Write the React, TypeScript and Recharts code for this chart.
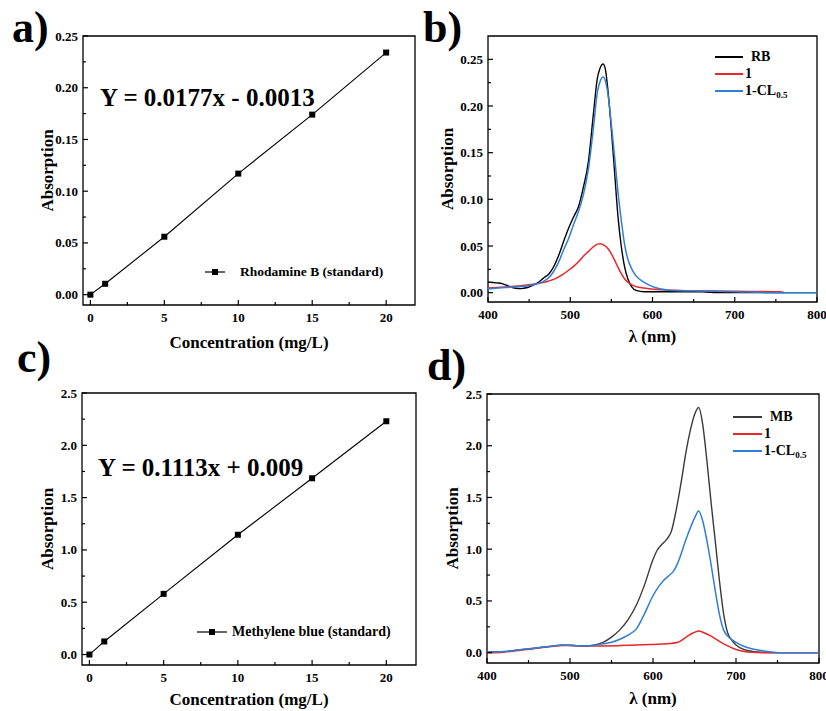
import React from "react";
import { LineChart, Line, XAxis, YAxis, ReferenceArea, Legend } from "recharts";

const SERIF = '"Liberation Serif", "Times New Roman", serif';
const RED = "#e8262b";
const BLUE = "#2f7ed8";

// a) Rhodamine B calibration
const rbConc = [0, 1, 5, 10, 15, 20];
const rbStd = [0.0, 0.0105, 0.056, 0.117, 0.174, 0.234];

// c) Methylene blue calibration
const mbConc = [0, 1, 5, 10, 15, 20];
const mbStd = [0.0, 0.125, 0.58, 1.145, 1.685, 2.23];

// b) RB spectra
const rbWl = [400, 410, 418, 425, 432, 440, 448, 455, 462, 468, 474, 480, 486, 492, 498, 504, 510, 516, 522, 528, 533, 536, 540, 543, 546, 550, 554, 558, 562, 566, 570, 575, 580, 590, 620, 660, 680, 720, 800];
const rbAbs = [0.0114, 0.0105, 0.0095, 0.007, 0.005, 0.0043, 0.0055, 0.008, 0.0114, 0.016, 0.02, 0.028, 0.04, 0.055, 0.069, 0.081, 0.092, 0.113, 0.14, 0.19, 0.23, 0.24, 0.245, 0.238, 0.215, 0.175, 0.128, 0.082, 0.05, 0.028, 0.015, 0.006, 0.0025, 0.001, 0.001, 0.001, 0, 0, 0];
const rb1Wl = [400, 420, 440, 455, 465, 474, 482, 490, 498, 505, 511, 517, 522, 528, 533, 537, 541, 546, 551, 556, 561, 566, 572, 580, 590, 610, 650, 700, 755, 760];
const rb1Abs = [0.005, 0.006, 0.0075, 0.009, 0.0105, 0.0125, 0.015, 0.019, 0.024, 0.029, 0.034, 0.04, 0.044, 0.049, 0.052, 0.0525, 0.051, 0.047, 0.04, 0.031, 0.022, 0.015, 0.01, 0.0065, 0.005, 0.003, 0.002, 0.0015, 0.001, 0];
const rbClWl = [400, 420, 440, 455, 465, 475, 486, 492, 498, 504, 510, 516, 522, 528, 533, 537, 540, 543, 546, 550, 554, 558, 562, 566, 570, 575, 580, 590, 600, 610, 620, 650, 700, 760, 800];
const rbClAbs = [0.004, 0.0055, 0.0065, 0.0085, 0.011, 0.017, 0.033, 0.046, 0.058, 0.073, 0.087, 0.105, 0.132, 0.175, 0.215, 0.228, 0.231, 0.226, 0.212, 0.18, 0.145, 0.108, 0.078, 0.052, 0.036, 0.025, 0.018, 0.011, 0.0065, 0.004, 0.0025, 0.002, 0.001, 0, 0];

// d) MB spectra
const mbWl = [400, 420, 440, 460, 480, 490, 500, 510, 520, 530, 540, 550, 560, 570, 580, 590, 600, 605, 610, 617, 622, 628, 634, 640, 645, 650, 655, 660, 665, 670, 675, 680, 685, 690, 695, 700, 710, 720, 730, 750, 800];
const mbAbs = [0.006, 0.01, 0.028, 0.045, 0.065, 0.073, 0.072, 0.066, 0.064, 0.075, 0.1, 0.15, 0.22, 0.32, 0.46, 0.66, 0.9, 0.99, 1.04, 1.1, 1.17, 1.38, 1.65, 1.95, 2.15, 2.3, 2.37, 2.2, 1.85, 1.45, 1.08, 0.7, 0.38, 0.19, 0.12, 0.075, 0.03, 0.012, 0.004, 0, 0];
const mb1Wl = [400, 420, 440, 460, 480, 490, 500, 520, 540, 560, 580, 600, 620, 630, 640, 648, 655, 662, 670, 680, 690, 700, 710, 720, 730, 800];
const mb1Abs = [0.0, 0.005, 0.022, 0.042, 0.062, 0.07, 0.068, 0.064, 0.065, 0.068, 0.073, 0.08, 0.088, 0.1, 0.15, 0.19, 0.21, 0.19, 0.16, 0.11, 0.065, 0.03, 0.012, 0.004, 0, 0];
const mbClWl = [400, 420, 440, 460, 480, 490, 500, 510, 520, 530, 540, 550, 560, 570, 580, 590, 600, 607, 613, 620, 625, 630, 640, 650, 655, 660, 665, 670, 675, 680, 685, 690, 700, 710, 720, 730, 740, 750, 800];
const mbClAbs = [0.006, 0.01, 0.028, 0.045, 0.065, 0.073, 0.07, 0.066, 0.065, 0.072, 0.085, 0.1, 0.13, 0.17, 0.23, 0.38, 0.55, 0.64, 0.7, 0.75, 0.79, 0.87, 1.1, 1.3, 1.37, 1.27, 1.08, 0.85, 0.6, 0.37, 0.22, 0.16, 0.1, 0.06, 0.035, 0.02, 0.008, 0, 0];

// ticks (major + minor)
const concTicks = [0, 2.5, 5, 7.5, 10, 12.5, 15, 17.5, 20];
const wlTicks = [400, 450, 500, 550, 600, 650, 700, 750, 800];
const smallAbsTicks = [0, 0.025, 0.05, 0.075, 0.1, 0.125, 0.15, 0.175, 0.2, 0.225, 0.25];
const bigAbsTicks = [0, 0.25, 0.5, 0.75, 1.0, 1.25, 1.5, 1.75, 2.0, 2.25, 2.5];

const zip = (xs: number[], ys: number[]) => xs.map((x, i) => ({ x, y: ys[i] }));

const isMajor = (v: number, step: number) => Math.abs(v / step - Math.round(v / step)) < 1e-6;

const tickText = { fontFamily: SERIF, fontWeight: "bold" as const, fontSize: 13, fill: "#000" };

function xTick(step: number, fmt: (v: number) => string) {
  return (p: any) => {
    const v = p.payload.value;
    const major = isMajor(v, step);
    return (
      <g>
        <line x1={p.x} x2={p.x} y1={p.y} y2={p.y - (major ? 5 : 3)} stroke="#000" strokeWidth={1.2} />
        {major && (
          <text x={p.x} y={p.y + 16.5} textAnchor="middle" {...tickText}>
            {fmt(v)}
          </text>
        )}
      </g>
    );
  };
}

function yTick(step: number, fmt: (v: number) => string) {
  return (p: any) => {
    const v = p.payload.value;
    const major = isMajor(v, step);
    return (
      <g>
        <line x1={p.x} x2={p.x + (major ? 5 : 3)} y1={p.y} y2={p.y} stroke="#000" strokeWidth={1.2} />
        {major && (
          <text x={p.x - 5} y={p.y + 4.5} textAnchor="end" {...tickText}>
            {fmt(v)}
          </text>
        )}
      </g>
    );
  };
}

const axisTitle = { fontFamily: SERIF, fontWeight: "bold", fontSize: 17, fill: "#000" };

function seriesName(name: string) {
  if (name.endsWith("0.5")) {
    return (
      <>
        {name.slice(0, -3)}
        <span style={{ fontSize: 9, position: "relative", top: 3 }}>0.5</span>
      </>
    );
  }
  return name;
}

// legend keeps the series order, not recharts' alphabetical sort
function spectraLegend(order: string[], lineW: number, gap: number, rowH: number) {
  return (props: any) => {
    const items = [...(props.payload || [])].sort((a: any, b: any) => order.indexOf(a.value) - order.indexOf(b.value));
    return (
      <div style={{ fontFamily: SERIF, fontWeight: "bold", fontSize: 14, color: "#000" }}>
        {items.map((e: any) => (
          <div key={e.value} style={{ height: rowH, display: "flex", alignItems: "center" }}>
            <svg width={lineW} height={4} style={{ display: "block" }}>
              <line x1={0} x2={lineW} y1={2} y2={2} stroke={e.color} strokeWidth={2} />
            </svg>
            <span style={{ marginLeft: /B$/.test(e.value) ? gap + 6 : gap, lineHeight: 1, whiteSpace: "nowrap" }}>{seriesName(e.value)}</span>
          </div>
        ))}
      </div>
    );
  };
}

function standardLegend(lineW: number, gap: number, fontSize: number) {
  return (props: any) => (
    <div style={{ fontFamily: SERIF, fontWeight: "bold", fontSize, color: "#000" }}>
      {(props.payload || []).map((e: any) => (
        <div key={e.value} style={{ height: 18, display: "flex", alignItems: "center" }}>
          <svg width={lineW} height={8} style={{ display: "block" }}>
            <line x1={0} x2={lineW} y1={4} y2={4} stroke="#000" strokeWidth={1.2} />
            <rect x={lineW / 2 - 3} y={1} width={6} height={6} fill="#000" />
          </svg>
          <span style={{ marginLeft: gap, lineHeight: 1, whiteSpace: "nowrap" }}>{e.value}</span>
        </div>
      ))}
    </div>
  );
}

const squareDot = (p: any) => (
  <rect key={`d-${p.index}`} x={p.cx - 3} y={p.cy - 3} width={6} height={6} fill="#000" />
);

const fmt2 = (v: number) => v.toFixed(2);
const fmt1 = (v: number) => v.toFixed(1);
const fmt0 = (v: number) => String(v);

function CalibrationChart(props: {
  width: number;
  height: number;
  margin: any;
  yWidth: number;
  xHeight: number;
  xDomain: [number, number];
  yDomain: [number, number];
  yTicks: number[];
  yStep: number;
  yFmt: (v: number) => string;
  points: { x: number; y: number }[];
  name: string;
  yLabelX: number;
  xLabelOffset: number;
  legendLeft: number;
  legendTop: number;
  legendLineW: number;
  legendGap: number;
  legendFont: number;
}) {
  const p = props;
  return (
    <LineChart width={p.width} height={p.height} margin={p.margin}>
      <XAxis
        dataKey="x"
        type="number"
        domain={p.xDomain}
        allowDataOverflow
        ticks={concTicks}
        interval={0}
        height={p.xHeight}
        tickSize={0}
        tickMargin={0}
        tickLine={false}
        axisLine={false}
        tick={xTick(5, fmt0)}
        label={{ value: "Concentration (mg/L)", position: "insideBottom", offset: p.xLabelOffset, style: axisTitle }}
      />
      <YAxis
        type="number"
        domain={p.yDomain}
        allowDataOverflow
        ticks={p.yTicks}
        interval={0}
        width={p.yWidth}
        tickSize={0}
        tickMargin={0}
        tickLine={false}
        axisLine={false}
        tick={yTick(p.yStep, p.yFmt)}
        label={{ value: "Absorption", angle: -90, position: "insideLeft", offset: p.yLabelX, style: { ...axisTitle, textAnchor: "middle" } }}
      />
      <ReferenceArea x1={p.xDomain[0]} x2={p.xDomain[1]} y1={p.yDomain[0]} y2={p.yDomain[1]} fill="none" stroke="#000" strokeWidth={1.3} strokeOpacity={1} />
      <Line data={p.points} dataKey="y" name={p.name} type="linear" stroke="#000" strokeWidth={1.1} dot={squareDot} isAnimationActive={false} />
      <Legend
        layout="vertical"
        align="center"
        verticalAlign="middle"
        content={standardLegend(p.legendLineW, p.legendGap, p.legendFont)}
        wrapperStyle={{ left: p.legendLeft, top: p.legendTop, width: 220, height: "auto" }}
      />
    </LineChart>
  );
}

function SpectraChart(props: {
  width: number;
  height: number;
  margin: any;
  yWidth: number;
  xHeight: number;
  yDomain: [number, number];
  yTicks: number[];
  yStep: number;
  yFmt: (v: number) => string;
  series: { name: string; color: string; width: number; points: { x: number; y: number }[] }[];
  yLabelX: number;
  xLabelOffset: number;
  legendLeft: number;
  legendTop: number;
  legendLineW: number;
  legendGap: number;
}) {
  const p = props;
  return (
    <LineChart width={p.width} height={p.height} margin={p.margin}>
      <XAxis
        dataKey="x"
        type="number"
        domain={[400, 800]}
        allowDataOverflow
        ticks={wlTicks}
        interval={0}
        height={p.xHeight}
        tickSize={0}
        tickMargin={0}
        tickLine={false}
        axisLine={false}
        tick={xTick(100, fmt0)}
        label={{ value: "λ (nm)", position: "insideBottom", offset: p.xLabelOffset, style: axisTitle }}
      />
      <YAxis
        type="number"
        domain={p.yDomain}
        allowDataOverflow
        ticks={p.yTicks}
        interval={0}
        width={p.yWidth}
        tickSize={0}
        tickMargin={0}
        tickLine={false}
        axisLine={false}
        tick={yTick(p.yStep, p.yFmt)}
        label={{ value: "Absorption", angle: -90, position: "insideLeft", offset: p.yLabelX, style: { ...axisTitle, textAnchor: "middle" } }}
      />
      <ReferenceArea x1={400} x2={800} y1={p.yDomain[0]} y2={p.yDomain[1]} fill="none" stroke="#000" strokeWidth={1.3} strokeOpacity={1} />
      {p.series.map((s) => (
        <Line
          key={s.name}
          data={s.points}
          dataKey="y"
          name={s.name}
          type="monotone"
          stroke={s.color}
          strokeWidth={s.width}
          dot={false}
          isAnimationActive={false}
        />
      ))}
      <Legend
        layout="vertical"
        align="center"
        verticalAlign="middle"
        content={spectraLegend(p.series.map((s) => s.name), p.legendLineW, p.legendGap, 17)}
        wrapperStyle={{ left: p.legendLeft, top: p.legendTop, width: 100, height: "auto" }}
      />
    </LineChart>
  );
}

const panelLabel = (text: string, left: number, top: number) => (
  <div style={{ position: "absolute", left, top, fontFamily: SERIF, fontWeight: "bold", fontSize: 44, lineHeight: "44px", color: "#000" }}>{text}</div>
);

const equation = (text: string, left: number, top: number) => (
  <div style={{ position: "absolute", left, top, fontFamily: SERIF, fontWeight: "bold", fontSize: 25, lineHeight: "26px", color: "#000", whiteSpace: "nowrap" }}>{text}</div>
);

export default function App() {
  return (
    <div style={{ position: "fixed", left: 0, top: 0, width: 826, height: 711, background: "#fff", overflow: "hidden" }}>
      <div style={{ position: "absolute", left: 0, top: 0 }}>
        <CalibrationChart
          width={420}
          height={360}
          margin={{ top: 36, right: 5, bottom: 0, left: 0 }}
          yWidth={83}
          xHeight={55}
          xDomain={[-0.5, 21.95]}
          yDomain={[-0.01, 0.25]}
          yTicks={smallAbsTicks}
          yStep={0.05}
          yFmt={fmt2}
          points={zip(rbConc, rbStd)}
          name="Rhodamine B (standard)"
          yLabelX={47}
          xLabelOffset={12}
          legendLeft={205}
          legendTop={263}
          legendLineW={20}
          legendGap={15}
          legendFont={13.5}
        />
      </div>
      <div style={{ position: "absolute", left: 420, top: 0 }}>
        <SpectraChart
          width={406}
          height={360}
          margin={{ top: 36, right: 9, bottom: 0, left: 0 }}
          yWidth={68}
          xHeight={58}
          yDomain={[-0.01, 0.275]}
          yTicks={smallAbsTicks}
          yStep={0.05}
          yFmt={fmt2}
          series={[
            { name: "RB", color: "#000", width: 1.4, points: zip(rbWl, rbAbs) },
            { name: "1", color: RED, width: 1.5, points: zip(rb1Wl, rb1Abs) },
            { name: "1-CL0.5", color: BLUE, width: 1.5, points: zip(rbClWl, rbClAbs) },
          ]}
          yLabelX={27}
          xLabelOffset={18}
          legendLeft={295}
          legendTop={48}
          legendLineW={28}
          legendGap={2}
        />
      </div>
      <div style={{ position: "absolute", left: 0, top: 360 }}>
        <CalibrationChart
          width={420}
          height={351}
          margin={{ top: 33, right: 4, bottom: 0, left: 0 }}
          yWidth={82}
          xHeight={46}
          xDomain={[-0.5, 22]}
          yDomain={[-0.1, 2.5]}
          yTicks={bigAbsTicks}
          yStep={0.5}
          yFmt={fmt1}
          points={zip(mbConc, mbStd)}
          name="Methylene blue (standard)"
          yLabelX={47}
          xLabelOffset={6}
          legendLeft={197}
          legendTop={263}
          legendLineW={30}
          legendGap={5}
          legendFont={14}
        />
      </div>
      <div style={{ position: "absolute", left: 420, top: 360 }}>
        <SpectraChart
          width={406}
          height={351}
          margin={{ top: 34, right: 7, bottom: 0, left: 0 }}
          yWidth={67}
          xHeight={48}
          yDomain={[-0.1, 2.5]}
          yTicks={bigAbsTicks}
          yStep={0.5}
          yFmt={fmt1}
          series={[
            { name: "MB", color: "#3a3a3a", width: 1.4, points: zip(mbWl, mbAbs) },
            { name: "1", color: RED, width: 1.5, points: zip(mb1Wl, mb1Abs) },
            { name: "1-CL0.5", color: BLUE, width: 1.5, points: zip(mbClWl, mbClAbs) },
          ]}
          yLabelX={32}
          xLabelOffset={7.5}
          legendLeft={313}
          legendTop={48}
          legendLineW={29}
          legendGap={2}
        />
      </div>
      {panelLabel("a)", 12, 6)}
      {panelLabel("b)", 423, 6)}
      {panelLabel("c)", 17, 336)}
      {panelLabel("d)", 427, 344)}
      {equation("Y = 0.0177x - 0.0013", 100, 85)}
      {equation("Y = 0.1113x + 0.009", 98, 455)}
    </div>
  );
}
